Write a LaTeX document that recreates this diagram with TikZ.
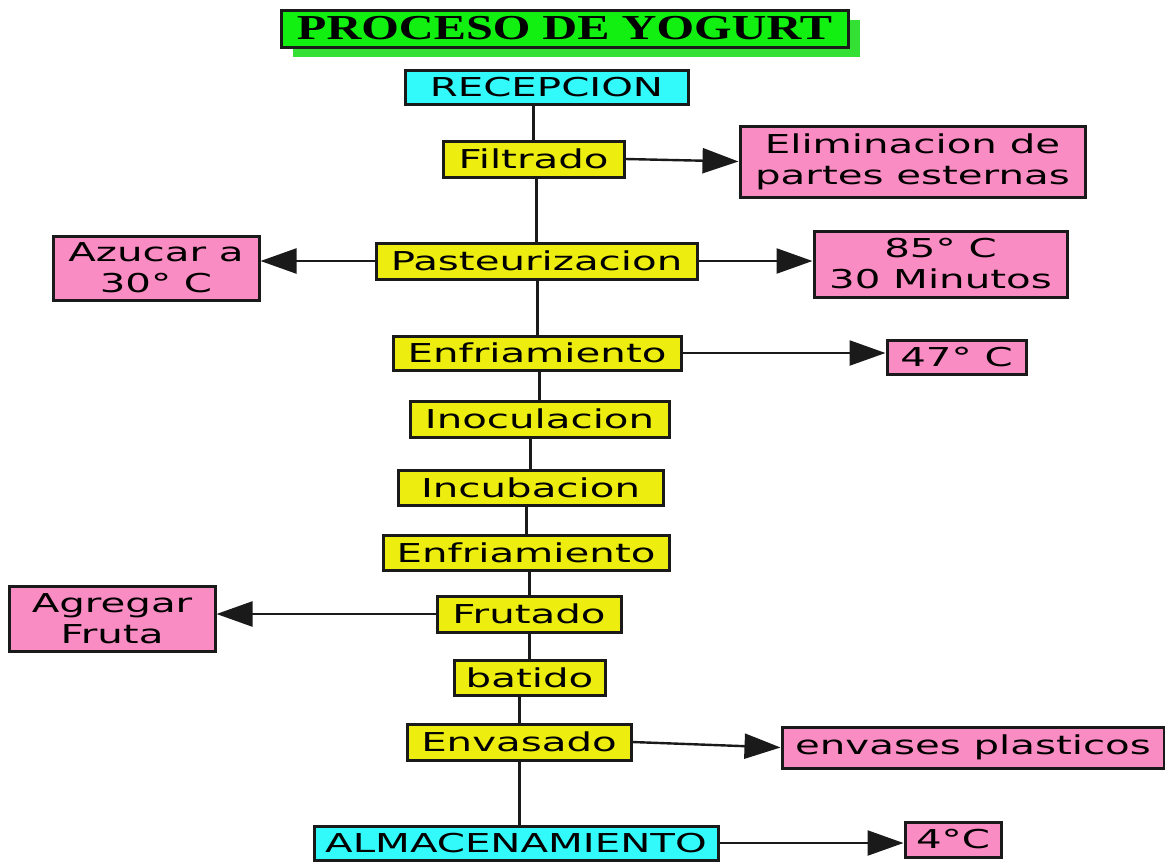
\documentclass[tikz,border=0pt]{standalone}
\usepackage{fontspec}
\setmainfont[FakeStretch=1.55]{DejaVu Sans}
\newfontfamily\titlefont[FakeStretch=1.38]{Liberation Serif}
\usetikzlibrary{arrows.meta,shadows}
\definecolor{ybox}{HTML}{EDED10}
\definecolor{pbox}{HTML}{FA8CC4}
\definecolor{cbox}{HTML}{33FAFA}
\definecolor{gbox}{HTML}{11F011}
\definecolor{gshadow}{HTML}{33E033}
\definecolor{edge}{HTML}{1A1A1A}
\begin{document}
\begin{tikzpicture}[x=1pt,y=-1pt,
  basebox/.style={draw=edge, line width=3pt, inner sep=0pt, align=center,
    text=black, font=\fontsize{26}{31}\selectfont},
  stepbox/.style={basebox, fill=ybox},
  notebox/.style={basebox, fill=pbox},
  endbox/.style={basebox, fill=cbox},
  flow/.style={line width=3pt, draw=edge},
  side/.style={line width=2.4pt, draw=edge, -{Triangle[length=36pt,width=25pt]}}
]
\useasboundingbox (0,0) rectangle (1165,863);

% title
\node[basebox, fill=gbox, minimum width=567pt, minimum height=37pt,
  general shadow={fill=gshadow, shadow xshift=12pt, shadow yshift=-10pt},
  font=\titlefont\bfseries\fontsize{35}{38}\selectfont] (title) at (564.5,28.5) {PROCESO DE YOGURT};

% main column
\node[endbox, minimum width=283pt, minimum height=34pt] (rec) at (546.5,87) {RECEPCION};
\node[stepbox, minimum width=181pt, minimum height=36pt] (fil) at (533.5,159) {Filtrado};
\node[stepbox, minimum width=321pt, minimum height=36pt] (pas) at (536.5,261) {Pasteurizacion};
\node[stepbox, minimum width=288pt, minimum height=34pt] (enf1) at (537,353) {Enfriamiento};
\node[stepbox, minimum width=259pt, minimum height=36pt] (ino) at (539.5,419) {Inoculacion};
\node[stepbox, minimum width=265pt, minimum height=35pt] (inc) at (530.5,487.5) {Incubacion};
\node[stepbox, minimum width=286pt, minimum height=35pt] (enf2) at (526,552.5) {Enfriamiento};
\node[stepbox, minimum width=184pt, minimum height=36pt] (fru) at (529,614) {Frutado};
\node[stepbox, minimum width=151pt, minimum height=35pt] (bat) at (529.5,677.5) {batido};
\node[stepbox, minimum width=224pt, minimum height=36pt] (env) at (519,742) {Envasado};
\node[endbox, minimum width=404pt, minimum height=34pt] (alm) at (516,843) {ALMACENAMIENTO};

% side notes
\node[notebox, minimum width=345pt, minimum height=71pt] (eli) at (912.5,161.5) {Eliminacion de\\partes esternas};
\node[notebox, minimum width=206pt, minimum height=64pt] (azu) at (156,268) {Azucar a\\30° C};
\node[notebox, minimum width=253pt, minimum height=66pt] (tmp) at (940.5,264) {85° C\\30 Minutos};
\node[notebox, minimum width=139pt, minimum height=34pt] (t47) at (956.5,357) {47° C};
\node[notebox, minimum width=206pt, minimum height=65pt] (agr) at (112,618.5) {Agregar\\Fruta};
\node[notebox, minimum width=382pt, minimum height=41pt] (pla) at (973,747.5) {envases plasticos};
\node[notebox, minimum width=96pt, minimum height=35pt] (t4) at (953,839.5) {4°C};

% vertical flow
\draw[flow] (rec.south -| fil.north) -- (fil.north);
\draw[flow] (fil.south -| pas.north) -- (pas.north);
\draw[flow] (pas.south -| enf1.north) -- (enf1.north);
\draw[flow] (enf1.south -| ino.north) -- (ino.north);
\draw[flow] (ino.south -| inc.north) -- (inc.north);
\draw[flow] (inc.south -| enf2.north) -- (enf2.north);
\draw[flow] (enf2.south -| fru.north) -- (fru.north);
\draw[flow] (fru.south -| bat.north) -- (bat.north);
\draw[flow] (bat.south -| env.north) -- (env.north);
\draw[flow] (env.south) -- (env.south |- alm.north);

% side arrows
\draw[side] (fil.east) -- (eli.west);
\draw[side] (pas.west) -- (pas.west -| azu.east);
\draw[side] (pas.east) -- (pas.east -| tmp.west);
\draw[side] (enf1.east) -- (enf1.east -| t47.west);
\draw[side] (fru.west) -- (fru.west -| agr.east);
\draw[side] (env.east) -- (pla.west);
\draw[side] (alm.east) -- (alm.east -| t4.west);
\end{tikzpicture}
\end{document}
